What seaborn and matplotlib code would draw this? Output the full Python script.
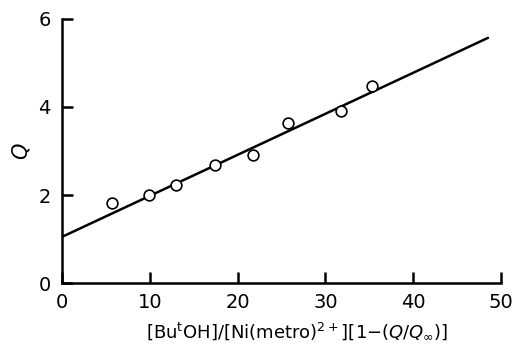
import matplotlib
matplotlib.use("Agg")
import matplotlib.pyplot as plt
import seaborn as sns

# data
ratio = [5.7, 9.9, 13.0, 17.4, 21.8, 25.7, 31.8, 35.3]
qValues = [1.82, 2.00, 2.23, 2.68, 2.91, 3.64, 3.91, 4.48]
fitX = [0.0, 48.5]
fitY = [1.05, 5.57]
xTicks = [0, 10, 20, 30, 40, 50]
yTicks = [0, 2, 4, 6]

sns.set_theme(style="ticks")
plt.rcParams["font.family"] = ["DejaVu Sans"]
plt.rcParams["mathtext.fontset"] = "dejavusans"
plt.rcParams["text.color"] = "black"
plt.rcParams["axes.labelcolor"] = "black"

fig = plt.figure(figsize=(5.14, 3.44), dpi=100)
ax = fig.add_axes([0.1206, 0.177, 0.8544, 0.768])

sns.lineplot(x=fitX, y=fitY, ax=ax, color="black", linewidth=1.8)
sns.scatterplot(x=ratio, y=qValues, ax=ax, marker="o", s=60,
                facecolor="white", edgecolor="black", linewidth=1.2, zorder=3)

ax.set_xlim(0, 50)
ax.set_ylim(0, 6)
ax.set_xticks(xTicks)
ax.set_yticks(yTicks)
ax.tick_params(direction="in", length=8, width=1.8, labelsize=14, colors="black")
ax.tick_params(axis="y", pad=8)
ax.tick_params(axis="x", pad=7)
for side in ["top", "right"]:
    ax.spines[side].set_visible(False)
for side in ["left", "bottom"]:
    ax.spines[side].set_linewidth(1.8)
    ax.spines[side].set_color("black")

ax.set_xlabel(r"[Bu$^{\rm t}$OH]/[Ni(metro)$^{2+}$][1$-$($Q$/$Q_{\infty}$)]",
              fontsize=13, color="black")
ax.xaxis.set_label_coords(0.535, -0.14)
ax.set_ylabel(r"$Q$", fontsize=15, labelpad=5, color="black")

fig.savefig("out.png", dpi=100)
plt.close(fig)
